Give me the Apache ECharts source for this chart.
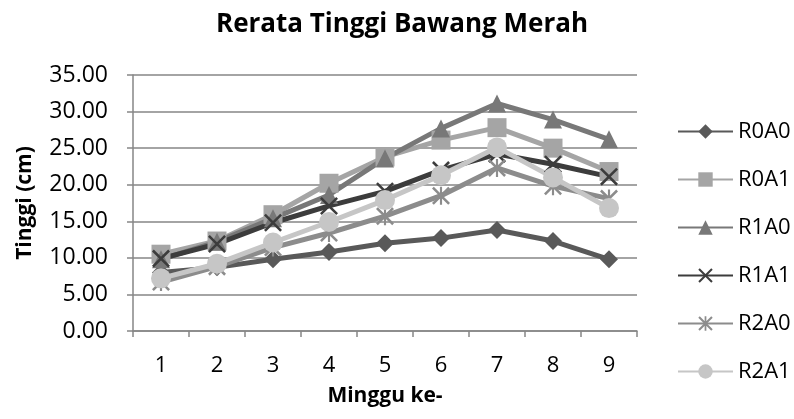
<!DOCTYPE html>
<html>
<head>
<meta charset="utf-8">
<script src="https://cdn.jsdelivr.net/npm/echarts@6/dist/echarts.min.js"></script>
<style>html,body{margin:0;padding:0;background:#fff}#c{width:794px;height:419px}</style>
</head>
<body>
<div id="c"></div>
<script>
var categories = ['1','2','3','4','5','6','7','8','9'];
var R0A0 = [8.0, 8.7, 9.8, 10.8, 12.0, 12.7, 13.8, 12.3, 9.8];
var R0A1 = [10.5, 12.3, 15.9, 20.2, 23.8, 26.1, 27.8, 25.0, 21.8];
var R1A0 = [9.8, 12.2, 15.4, 18.6, 23.6, 27.7, 31.1, 28.9, 26.2];
var R1A1 = [9.9, 11.9, 14.8, 17.1, 19.1, 22.0, 24.2, 22.8, 21.1];
var R2A0 = [6.7, 8.8, 11.4, 13.4, 15.7, 18.5, 22.3, 19.8, 18.1];
var R2A1 = [7.2, 9.2, 12.1, 14.9, 17.9, 21.3, 25.1, 21.0, 16.8];
var seriesNames = ['R0A0','R0A1','R1A0','R1A1','R2A0','R2A1'];

var FONT = '"Open Sans", Lato, sans-serif';
var crossPath = 'path://M0,1 L1,0 L10,9 L9,10 Z M9,0 L10,1 L1,10 L0,9 Z';
var starPath = 'path://M0,1 L1,0 L10,9 L9,10 Z M9,0 L10,1 L1,10 L0,9 Z M4.4,0 L5.6,0 L5.6,10 L4.4,10 Z';

var styles = [
  {data: R0A0, color: '#595959', symbol: 'diamond', size: 18},
  {data: R0A1, color: '#a5a5a5', symbol: 'rect', size: 19},
  {data: R1A0, color: '#787878', symbol: 'triangle', size: 18},
  {data: R1A1, color: '#3c3c3c', symbol: crossPath, size: 18},
  {data: R2A0, color: '#8c8c8c', symbol: starPath, size: 18},
  {data: R2A1, color: '#c6c6c6', symbol: 'circle', size: 20}
];

var series = styles.map(function (s, i) {
  return {
    name: seriesNames[i],
    type: 'line',
    data: s.data,
    symbol: s.symbol,
    symbolSize: s.size,
    showAllSymbol: true,
    lineStyle: {color: s.color, width: 5},
    itemStyle: {color: s.color, borderWidth: 0},
    emphasis: {disabled: true},
    animation: false
  };
});

var chart = echarts.init(document.getElementById('c'));
chart.setOption({
  animation: false,
  title: {
    text: 'Rerata Tinggi Bawang Merah',
    left: 397, top: 7, textAlign: 'center',
    textStyle: {fontFamily: FONT, fontSize: 26, fontWeight: 'bold', color: '#000'}
  },
  legend: {
    orient: 'vertical',
    left: 672, top: 114,
    itemWidth: 55, itemHeight: 18, itemGap: 23,
    textStyle: {fontFamily: FONT, fontSize: 22, color: '#000', lineHeight: 25},
    data: seriesNames
  },
  grid: {left: 133, right: 157, top: 75, bottom: 88, containLabel: false},
  xAxis: {
    type: 'category',
    data: categories,
    boundaryGap: true,
    name: 'Minggu ke-',
    nameLocation: 'middle',
    nameGap: 55,
    nameTextStyle: {fontFamily: FONT, fontSize: 21, fontWeight: 'bold', color: '#000'},
    axisLine: {lineStyle: {color: '#868686', width: 1.5}},
    axisTick: {show: true, length: 6, lineStyle: {color: '#868686', width: 1.5}},
    axisLabel: {fontFamily: FONT, fontSize: 22, color: '#000', margin: 24},
    splitLine: {show: false}
  },
  yAxis: {
    type: 'value',
    min: 0, max: 35, interval: 5,
    name: 'Tinggi (cm)',
    nameLocation: 'middle',
    nameGap: 97,
    nameTextStyle: {fontFamily: FONT, fontSize: 21, fontWeight: 'bold', color: '#000'},
    axisLine: {show: true, lineStyle: {color: '#868686', width: 1.5}},
    axisTick: {show: true, length: 6, lineStyle: {color: '#868686', width: 1.5}},
    axisLabel: {fontFamily: FONT, fontSize: 23, color: '#000', margin: 25,
      formatter: function (v) { return v.toFixed(2); }},
    splitLine: {show: true, lineStyle: {color: '#868686', width: 1.5}}
  },
  series: series
});
</script>
</body>
</html>
